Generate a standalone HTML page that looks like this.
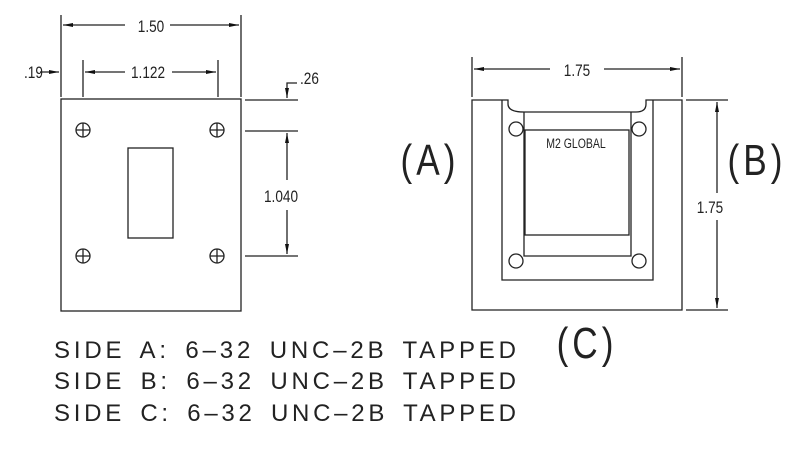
<!DOCTYPE html>
<html><head><meta charset="utf-8"><style>body{margin:0;background:#fff}svg{display:block}</style></head><body>
<svg width="800" height="450" viewBox="0 0 800 450" xmlns="http://www.w3.org/2000/svg" font-family="Liberation Sans, sans-serif">
<defs><marker id="a" viewBox="0 0 10 4" refX="10" refY="2" markerWidth="10" markerHeight="4" orient="auto-start-reverse" markerUnits="userSpaceOnUse"><path d="M0,0L10,2L0,4z" fill="#111"/></marker></defs>
<g stroke="#222" stroke-width="1.3" fill="none">
<rect x="61" y="99" width="180" height="212"/>
<rect x="128" y="148" width="45" height="90"/>
<g>
<circle cx="83" cy="130" r="7"/><path d="M76,130h14M83,123v14"/>
<circle cx="217" cy="130" r="7"/><path d="M210,130h14M217,123v14"/>
<circle cx="83" cy="256" r="7"/><path d="M76,256h14M83,249v14"/>
<circle cx="217" cy="256" r="7"/><path d="M210,256h14M217,249v14"/>
</g>
<path d="M61,15V97M241,15V97M61,62V97M83,60V97M218,60V97"/>
<path d="M63,25H125M170,25H239" marker-start="url(#a)" marker-end="url(#a)"/>
<path d="M85,72H125" marker-start="url(#a)"/>
<path d="M172,72H216" marker-end="url(#a)"/>
<path d="M40,72H59" marker-end="url(#a)"/>
<path d="M245,100H298M245,131H298M245,256H298"/>
<path d="M297,83H287V98" marker-end="url(#a)"/>
<path d="M287,133V180M287,210V254" marker-start="url(#a)" marker-end="url(#a)"/>
<path d="M472,100H508V104Q508,112 524,112H636Q646,112 646,104V100H682V310H472Z"/>
<path d="M502,100V280H653V100"/>
<path d="M524,112V256H631V112M524,256H631"/>
<rect x="525" y="130" width="104" height="105"/>
<circle cx="516" cy="129" r="7" fill="#fff"/><circle cx="639" cy="129" r="7" fill="#fff"/>
<circle cx="516" cy="261" r="7" fill="#fff"/><circle cx="639" cy="261" r="7" fill="#fff"/>
<path d="M472,57V97M682,57V97"/>
<path d="M474,69H550M604,69H680" marker-start="url(#a)" marker-end="url(#a)"/>
<path d="M686,100H728M686,310H728"/>
<path d="M717,102V193M717,220V308" marker-start="url(#a)" marker-end="url(#a)"/>
</g>
<g fill="#222">
<text transform="translate(151,32) scale(0.8,1)" font-size="17" text-anchor="middle">1.50</text>
<text transform="translate(148,78) scale(0.8,1)" font-size="17" text-anchor="middle">1.122</text>
<text transform="translate(24,78) scale(0.8,1)" font-size="17">.19</text>
<text transform="translate(300,84) scale(0.8,1)" font-size="17">.26</text>
<text transform="translate(281,202) scale(0.8,1)" font-size="17" text-anchor="middle">1.040</text>
<text transform="translate(577,76) scale(0.8,1)" font-size="17" text-anchor="middle">1.75</text>
<text transform="translate(710,213) scale(0.8,1)" font-size="17" text-anchor="middle">1.75</text>
<text transform="translate(576,148) scale(0.75,1)" font-size="14" text-anchor="middle">M2 GLOBAL</text>
<text transform="translate(430,175) scale(0.8,1)" font-size="44" text-anchor="middle" letter-spacing="5">(A)</text>
<text transform="translate(757,175) scale(0.8,1)" font-size="44" text-anchor="middle" letter-spacing="5">(B)</text>
<text transform="translate(587,358) scale(0.8,1)" font-size="44" text-anchor="middle" letter-spacing="5">(C)</text>
<text x="54" y="358" font-size="24" letter-spacing="1" word-spacing="5" textLength="463" lengthAdjust="spacing">SIDE A: 6–32 UNC–2B TAPPED</text>
<text x="54" y="389" font-size="24" letter-spacing="1" word-spacing="5" textLength="463" lengthAdjust="spacing">SIDE B: 6–32 UNC–2B TAPPED</text>
<text x="54" y="421" font-size="24" letter-spacing="1" word-spacing="5" textLength="463" lengthAdjust="spacing">SIDE C: 6–32 UNC–2B TAPPED</text>
</g>
</svg>
</body></html>
